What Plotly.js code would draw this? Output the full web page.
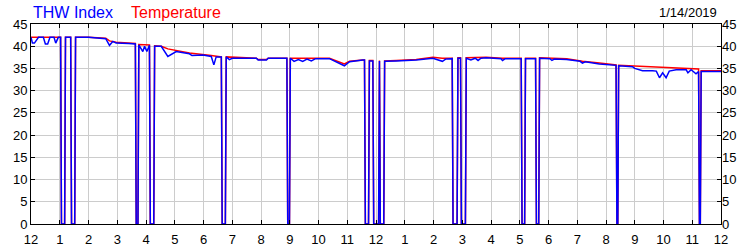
<!DOCTYPE html>
<html>
<head>
<meta charset="utf-8">
<script src="https://cdn.plot.ly/plotly-3.0.1.min.js"></script>
<style>html,body{margin:0;padding:0;background:#fff;}#chart{width:750px;height:250px;}</style>
</head>
<body>
<div id="chart"></div>
<script>
// Hour-of-day tick labels (midnight to midnight)
var tickHours = [0,1,2,3,4,5,6,7,8,9,10,11,12,13,14,15,16,17,18,19,20,21,22,23,24];
var tickLabels = ["12","1","2","3","4","5","6","7","8","9","10","11","12","1","2","3","4","5","6","7","8","9","10","11","12"];
var yTicks = [0,5,10,15,20,25,30,35,40,45];

// Temperature (red), hours since midnight and values
var temperatureHours = [0,1.03,1.06,1.17,1.20,1.38,1.41,1.52,1.55,2.0,2.6,2.73,2.96,3.4,3.63,3.66,3.72,3.75,4.12,4.15,4.27,4.30,4.53,4.76,5.51,6.27,6.62,6.65,6.76,6.79,7.84,7.9,8.19,8.25,8.90,8.93,8.99,9.02,10.38,10.90,11.08,11.54,11.60,11.63,11.74,11.77,11.89,11.92,12.09,12.12,12.15,12.27,12.30,12.7,13.4,13.98,14.3,14.65,14.68,14.82,14.85,14.94,14.97,15.11,15.14,15.83,16.4,17.05,17.08,17.17,17.20,17.55,17.58,17.66,17.69,18.63,19.18,19.77,20.23,20.35,20.38,20.41,20.44,21.17,22.09,23.14,23.22,23.25,23.28,23.31,24];
var temperatureValues = [42.0,42.0,0,0,42.0,42.0,0,0,42.0,42.0,41.8,41.2,40.9,40.7,40.6,0,0,40.4,40.3,0,0,40.1,40.0,39.4,38.5,37.9,37.6,0,0,37.6,37.3,37.0,37.0,37.3,37.3,0,0,37.3,37.3,36.0,36.6,36.9,36.9,0,0,36.8,36.8,0,0,36.8,0,0,36.7,36.8,37.0,37.5,37.3,37.3,0,0,37.4,37.4,0,0,37.4,37.5,37.3,37.3,0,0,37.3,37.3,0,0,37.4,37.2,36.6,36.2,35.8,35.8,0,0,35.7,35.5,35.2,34.9,34.9,0,0,34.5,34.5];

// THW Index (blue), hours since midnight and values
var thwHours = [0,0.05,0.12,0.26,0.43,0.50,0.58,0.66,0.80,0.86,0.95,1.03,1.06,1.17,1.20,1.38,1.41,1.52,1.55,2.0,2.6,2.73,2.85,2.96,3.4,3.63,3.66,3.72,3.75,3.89,3.95,4.03,4.12,4.15,4.27,4.30,4.53,4.76,5.05,5.51,5.60,5.69,5.98,6.27,6.36,6.44,6.62,6.65,6.76,6.79,6.90,7.0,7.84,7.9,8.19,8.25,8.90,8.93,8.99,9.02,9.15,9.3,9.45,9.6,9.75,9.9,10.38,10.90,11.08,11.54,11.60,11.63,11.74,11.77,11.89,11.92,12.09,12.12,12.15,12.27,12.30,12.7,13.4,13.98,14.31,14.42,14.65,14.68,14.82,14.85,14.94,14.97,15.11,15.14,15.30,15.45,15.55,15.65,15.83,16.35,16.40,16.50,17.05,17.08,17.17,17.20,17.55,17.58,17.66,17.69,18.05,18.12,18.2,18.63,19.10,19.18,19.28,19.77,20.23,20.35,20.38,20.41,20.44,20.92,21.0,21.27,21.62,21.75,21.86,21.97,22.09,22.2,22.44,22.79,22.85,22.96,23.13,23.22,23.25,23.28,23.31,24];
var thwValues = [42.0,40.7,40.7,42.0,42.0,40.5,40.5,42.0,42.0,40.7,42.0,42.0,0,0,42.0,42.0,0,0,42.0,42.0,41.7,40.2,41.1,40.7,40.6,40.5,0,0,40.3,38.8,40.0,38.8,40.2,0,0,40.0,40.0,37.7,38.8,38.3,37.9,37.9,38.0,37.7,35.8,37.6,37.6,0,0,37.6,37.0,37.3,37.3,36.9,36.9,37.3,37.3,0,0,37.3,36.6,37.0,36.6,37.1,36.7,37.2,37.2,35.6,36.5,36.9,36.9,0,0,36.7,36.7,0,0,36.7,0,0,36.6,36.7,36.9,37.3,36.6,37.1,37.2,0,0,37.3,37.3,0,0,37.3,36.9,37.3,36.8,37.3,37.4,37.2,36.8,37.2,37.2,0,0,37.2,37.2,0,0,37.3,37.2,36.8,37.1,37.0,36.6,36.2,36.5,36.0,35.7,35.7,0,0,35.6,35.4,35.0,34.5,34.5,34.4,32.9,34.0,32.9,34.4,34.7,34.7,34.0,34.7,33.8,34.3,0,0,34.3,34.3];

var FONT = "Liberation Sans, Arial, sans-serif";

var traces = [
  {x: temperatureHours, y: temperatureValues, type: "scatter", mode: "lines",
   line: {color: "#ff0000", width: 1.5}, hoverinfo: "skip", showlegend: false},
  {x: thwHours, y: thwValues, type: "scatter", mode: "lines",
   line: {color: "#0000ff", width: 1.5}, hoverinfo: "skip", showlegend: false},
  {x: [null], y: [null], yaxis: "y2", type: "scatter", mode: "lines", hoverinfo: "skip", showlegend: false}
];

var layout = {
  width: 750, height: 250,
  margin: {l: 31, r: 29, t: 24, b: 26},
  paper_bgcolor: "#ffffff", plot_bgcolor: "#ffffff",
  showlegend: false,
  xaxis: {
    range: [0, 24], tickmode: "array", tickvals: tickHours, ticktext: tickLabels,
    ticks: "inside", ticklen: 4, tickcolor: "#000", tickwidth: 1,
    showgrid: true, gridcolor: "#cccccc", gridwidth: 1,
    showline: true, linecolor: "#000", linewidth: 1, mirror: "ticks",
    zeroline: false, fixedrange: true, ticklabelstandoff: 3,
    tickfont: {family: FONT, size: 13, color: "#000"}
  },
  yaxis: {
    range: [0, 45], tickmode: "array", tickvals: yTicks,
    ticks: "inside", ticklen: 4, tickcolor: "#000", tickwidth: 1,
    showgrid: true, gridcolor: "#cccccc", gridwidth: 1,
    showline: true, linecolor: "#000", linewidth: 1, mirror: "ticks",
    zeroline: false, fixedrange: true,
    tickfont: {family: FONT, size: 13, color: "#000"}
  },
  yaxis2: {
    range: [0, 45], tickmode: "array", tickvals: yTicks,
    overlaying: "y", side: "right", ticks: "", showgrid: false, zeroline: false,
    showline: false, fixedrange: true,
    tickfont: {family: FONT, size: 13, color: "#000"}
  },
  annotations: [
    {text: "THW Index", xref: "paper", yref: "paper", x: 0.0, y: 1, xanchor: "left", yanchor: "middle", yshift: 12,
     showarrow: false, font: {family: FONT, size: 16, color: "#0000ff"}},
    {text: "Temperature", xref: "paper", yref: "paper", x: 0.142, y: 1, xanchor: "left", yanchor: "middle", yshift: 12,
     showarrow: false, font: {family: FONT, size: 16, color: "#ff0000"}},
    {text: "1/14/2019", xref: "paper", yref: "paper", x: 0.997, y: 1, xanchor: "right", yanchor: "middle", yshift: 12,
     showarrow: false, font: {family: FONT, size: 13, color: "#000"}}
  ]
};

Plotly.newPlot("chart", traces, layout, {displayModeBar: false, staticPlot: true});
</script>
</body>
</html>
